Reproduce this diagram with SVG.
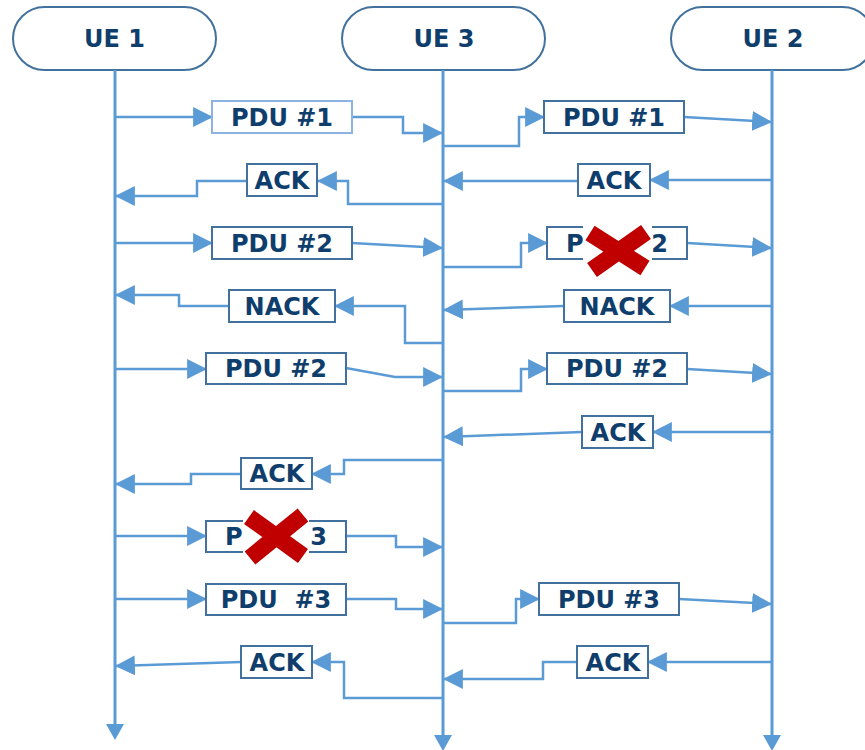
<svg xmlns="http://www.w3.org/2000/svg" width="865" height="750" viewBox="0 0 865 750">
<style>
.pill{fill:#fff;stroke:#41719C;stroke-width:2}
.life{stroke:#5B9BD5;stroke-width:3;fill:none}
.msg{stroke:#5B9BD5;stroke-width:2.5;fill:none;marker-end:url(#ah)}
.box{fill:#fff;stroke:#41719C;stroke-width:2}
.box.light{stroke:#8DB3E2}
.t{font-family:"DejaVu Sans","Verdana",sans-serif;font-weight:bold;font-size:24px;fill:#0F3E6C;text-anchor:middle;white-space:pre}
.xb{fill:#fff}
.x{stroke:#C00000;stroke-width:17;fill:none}
.tipfill{fill:#5B9BD5}
</style>
<defs>
<marker id="ah" markerUnits="userSpaceOnUse" markerWidth="20" markerHeight="20" viewBox="0 0 18 18" refX="17" refY="9" orient="auto">
<path d="M0,0 L18,9 L0,18 z" fill="#5B9BD5"/>
</marker>
</defs>
<rect width="865" height="750" fill="#fff"/>

<g id="ue1">
<rect class="pill" x="13" y="7" width="203" height="63" rx="31.5"/>
<text class="t" x="114.5" y="47">UE 1</text>
<line class="life" x1="115" y1="70" x2="115" y2="726"/>
<polygon class="tipfill" points="106,724 124,724 115,740"/>
</g>
<g id="ue3">
<rect class="pill" x="342" y="7" width="203" height="63" rx="31.5"/>
<text class="t" x="444" y="47">UE 3</text>
<line class="life" x1="443" y1="70" x2="443" y2="737"/>
<polygon class="tipfill" points="434,735 452,735 443,751"/>
</g>
<g id="ue2">
<rect class="pill" x="671" y="7" width="203" height="63" rx="31.5"/>
<text class="t" x="773" y="47">UE 2</text>
<line class="life" x1="772" y1="70" x2="772" y2="737"/>
<polygon class="tipfill" points="763,735 781,735 772,751"/>
</g>

<g id="connectors">
<path class="msg" d="M115,117 H212"/>
<path class="msg" d="M352,117 H403 V133 H442"/>
<path class="msg" d="M443,146 H519 V117 H544"/>
<path class="msg" d="M684,117 L771,122"/>
<path class="msg" d="M772,180 H650"/>
<path class="msg" d="M578,181 H444"/>
<path class="msg" d="M443,204 H348 V181 H318"/>
<path class="msg" d="M247,181 H197 V196 H116"/>

<path class="msg" d="M115,243 H212"/>
<path class="msg" d="M352,243 L442,248"/>
<path class="msg" d="M443,267 H521 V243 H547"/>
<path class="msg" d="M687,243 L771,248"/>
<path class="msg" d="M772,306 H670"/>
<path class="msg" d="M564,306 L444,310"/>
<path class="msg" d="M443,343 H405 V306 H335"/>
<path class="msg" d="M229,306 H179 V295 H116"/>

<path class="msg" d="M115,369 H206"/>
<path class="msg" d="M346,368 L395,377 H442"/>
<path class="msg" d="M443,391 H521 V369 H547"/>
<path class="msg" d="M687,369 L771,374"/>
<path class="msg" d="M772,432 H653"/>
<path class="msg" d="M582,432 L444,437"/>
<path class="msg" d="M443,460 H344 V474 H312"/>
<path class="msg" d="M241,474 H191 V484 H116"/>

<path class="msg" d="M115,536 H206"/>
<path class="msg" d="M346,536 H396 V547 H442"/>
<path class="msg" d="M115,599 H206"/>
<path class="msg" d="M346,599 H396 V609 H442"/>
<path class="msg" d="M443,623 H516 V599 H539"/>
<path class="msg" d="M679,599 L771,604"/>
<path class="msg" d="M772,662 H648"/>
<path class="msg" d="M577,662 H543 V679 H444"/>
<path class="msg" d="M443,698 H344 V662 H312"/>
<path class="msg" d="M241,662 L116,666"/>
</g>

<g id="m1"><rect class="box light" x="212" y="101" width="140" height="32"/><text class="t" x="282" y="125.5">PDU #1</text></g>
<g id="m2"><rect class="box" x="544" y="101" width="140" height="32"/><text class="t" x="614" y="125.5">PDU #1</text></g>
<g id="m3"><rect class="box" x="578" y="164" width="72" height="32"/><text class="t" x="614" y="188.5">ACK</text></g>
<g id="m4"><rect class="box" x="247" y="164" width="70" height="32"/><text class="t" x="282" y="188.5">ACK</text></g>
<g id="m5"><rect class="box" x="212" y="227" width="140" height="32"/><text class="t" x="282" y="251.5">PDU #2</text></g>
<g id="m6"><rect class="box" x="547" y="227" width="140" height="32"/><text class="t" x="617" y="251.5">PDU #2</text>
<rect class="xb" x="583" y="226" width="69" height="47"/>
<path class="x" d="M590,233 L645,268 M646,232 L592,270"/></g>
<g id="m7"><rect class="box" x="564" y="290" width="106" height="32"/><text class="t" x="617" y="314.5">NACK</text></g>
<g id="m8"><rect class="box" x="229" y="290" width="106" height="32"/><text class="t" x="282" y="314.5">NACK</text></g>
<g id="m9"><rect class="box" x="206" y="353" width="140" height="31"/><text class="t" x="276" y="377">PDU #2</text></g>
<g id="m10"><rect class="box" x="547" y="353" width="140" height="31"/><text class="t" x="617" y="377">PDU #2</text></g>
<g id="m11"><rect class="box" x="582" y="416" width="71" height="32"/><text class="t" x="618" y="440.5">ACK</text></g>
<g id="m12"><rect class="box" x="241" y="458" width="71" height="31"/><text class="t" x="277" y="482">ACK</text></g>
<g id="m13"><rect class="box" x="206" y="521" width="140" height="31"/><text class="t" x="276" y="545">PDU #3</text>
<rect class="xb" x="243" y="512" width="66" height="49"/>
<path class="x" d="M249,517 L303,556 M303,515 L250,558"/></g>
<g id="m14"><rect class="box" x="206" y="584" width="140" height="31"/><text class="t" x="276" y="608">PDU  #3</text></g>
<g id="m15"><rect class="box" x="539" y="583" width="140" height="32"/><text class="t" x="609" y="607.5">PDU #3</text></g>
<g id="m16"><rect class="box" x="577" y="646" width="71" height="32"/><text class="t" x="613" y="670.5">ACK</text></g>
<g id="m17"><rect class="box" x="241" y="646" width="71" height="32"/><text class="t" x="277" y="670.5">ACK</text></g>
</svg>
